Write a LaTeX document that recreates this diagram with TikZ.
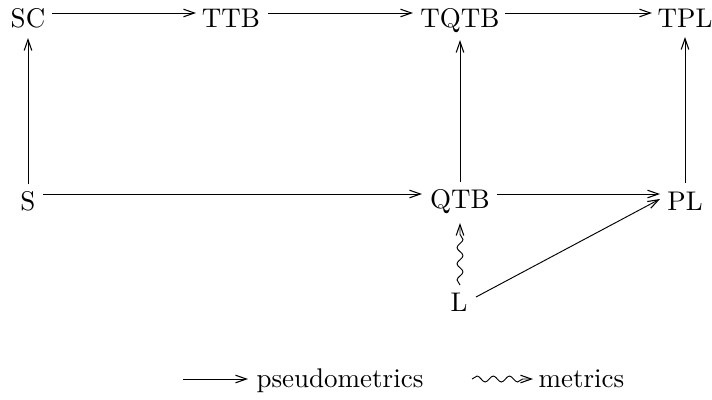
\documentclass[tikz,border=0pt]{standalone}
\usetikzlibrary{arrows.meta,decorations.pathmorphing}
\begin{document}
\begin{tikzpicture}[x=0.37037pt,y=-0.37037pt,
  obj/.style={inner sep=0pt,text depth=0pt,font=\fontsize{10}{12}\selectfont},
  arr/.style={-{Straight Barb[length=4pt,width=2.8pt,line width=0.4pt]},line width=0.35pt},
  wavy/.style={-{Straight Barb[length=4pt,width=2.8pt,line width=0.4pt]},line width=0.35pt,decorate,
    decoration={snake,amplitude=1.1pt,segment length=6pt,post length=3pt}}]
\useasboundingbox (0,0) rectangle (712,399);
% nodes
\node[obj] (SC) at (28,18) {SC};
\node[obj] (TTB) at (231,18) {TTB};
\node[obj] (TQTB) at (460,18) {TQTB};
\node[obj] (TPL) at (685,18) {TPL};
\node[obj] (S) at (28,201) {S};
\node[obj] (QTB) at (460,199) {QTB};
\node[obj] (PL) at (685,201) {PL};
\node[obj] (L) at (459,302) {L};
% top row
\draw[arr] ([shift={(24,-5)}]SC.center) -- ([shift={(-35,-5)}]TTB.center);
\draw[arr] ([shift={(37,-5)}]TTB.center) -- ([shift={(-47,-5)}]TQTB.center);
\draw[arr] ([shift={(45,-5)}]TQTB.center) -- ([shift={(-33,-5)}]TPL.center);
% middle row
\draw[arr] ([shift={(15,-7)}]S.center) -- ([shift={(-38,-5)}]QTB.center);
\draw[arr] ([shift={(37,-5)}]QTB.center) -- ([shift={(-25,-7)}]PL.center);
% verticals
\draw[arr] ([shift={(0,-17)}]S.center) -- ([shift={(0,20)}]SC.center);
\draw[arr] ([shift={(0,-17)}]QTB.center) -- ([shift={(0,22)}]TQTB.center);
\draw[arr] ([shift={(0,-18)}]PL.center) -- ([shift={(0,19)}]TPL.center);
% from L
\draw[wavy] ([shift={(1,-17)}]L.center) -- ([shift={(0,24)}]QTB.center);
\draw[arr] ([shift={(17,-5)}]L.center) -- ([shift={(-25,-2)}]PL.center);
% legend
\node[obj,anchor=base west] (pm) at (256,387) {pseudometrics};
\node[obj,anchor=base west] (me) at (538,387) {metrics};
\coordinate (lp) at (183,379);
\coordinate (lm) at (472,379);
\draw[arr] (lp) -- ([shift={(-8,-8)}]pm.base west);
\draw[wavy] (lm) -- ([shift={(-5,-8)}]me.base west);
\end{tikzpicture}
\end{document}
